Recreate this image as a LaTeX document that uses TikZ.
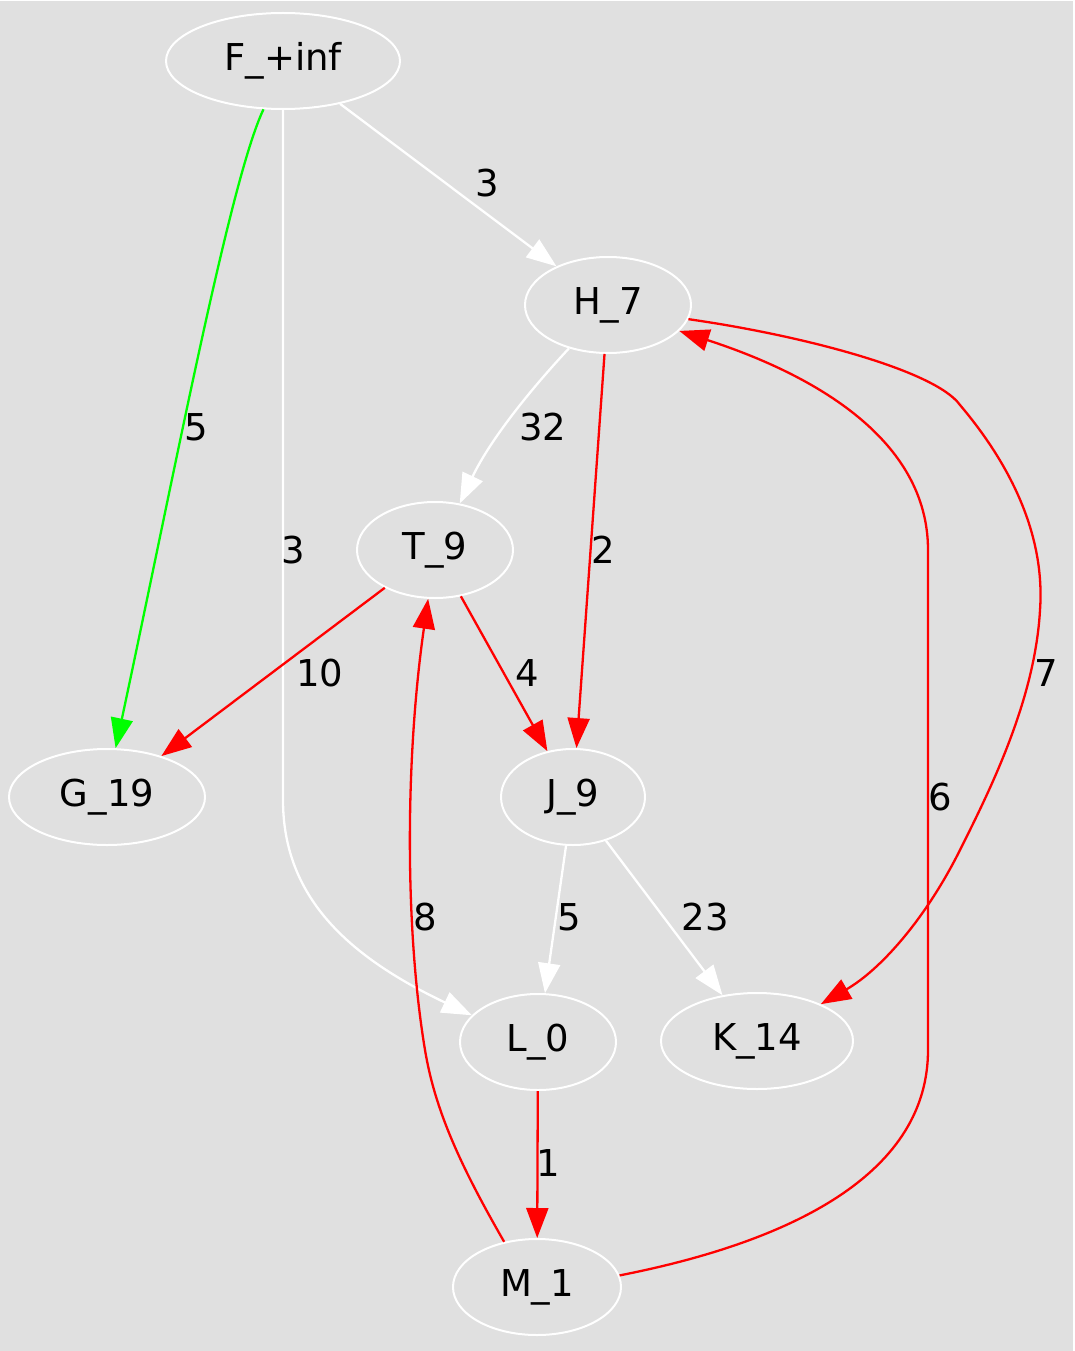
\documentclass[tikz,border=0pt]{standalone}
\usepackage{fontspec}
\setmainfont{DejaVu Sans}
\usetikzlibrary{shapes.geometric,arrows.meta}
\definecolor{bggray}{HTML}{E0E0E0}
\begin{document}
\begin{tikzpicture}[x=1pt,y=-1pt,
  gnode/.style={ellipse, draw=white, line width=2pt, inner sep=0pt,
    text height=28pt, text depth=9pt, minimum height=96pt,
    font=\fontsize{37}{44}\selectfont},
  elab/.style={inner sep=0pt, font=\fontsize{37}{44}\selectfont},
  edge/.style={line width=2.3pt, -{Triangle[length=30pt,width=22pt]}}]
\useasboundingbox (0,0) rectangle (1075,1351);
\fill[white] (0,0) rectangle (1075,1351);
\fill[bggray] (0,1) rectangle (1073,1351);
% nodes
\node[gnode, minimum width=234pt] (F) at (283,61) {F\_+inf};
\node[gnode, minimum width=166pt] (H) at (608,305) {H\_7};
\node[gnode, minimum width=156pt] (T) at (435,550) {T\_9};
\node[gnode, minimum width=196pt] (G) at (107,797) {G\_19};
\node[gnode, minimum width=144pt] (J) at (573,797) {J\_9};
\node[gnode, minimum width=156pt] (L) at (538,1042) {L\_0};
\node[gnode, minimum width=192pt] (K) at (757,1041) {K\_14};
\node[gnode, minimum width=168pt] (M) at (537,1287) {M\_1};
% edges
\draw[edge, green] (F.248) .. controls (230,180) and (175,470) .. (G.80);
\draw[edge, white] (F.south) -- (283,800) .. controls (283,895) and (345,955) .. (L.158);
\draw[edge, white] (F) -- (H);
\draw[edge, white] (H.228) .. controls (530,390) and (490,440) .. (T.62);
\draw[edge, red] (H) -- (J);
\draw[edge, red] (H.350) .. controls (800,335) and (935,370) .. (960,405)
  .. controls (1015,470) and (1045,540) .. (1040,610)
  .. controls (1035,700) and (990,790) .. (960,850)
  .. controls (925,920) and (880,970) .. (K.30);
\draw[edge, red] (M.8) .. controls (800,1240) and (928,1170) .. (928,1050)
  -- (928,550) .. controls (928,440) and (815,375) .. (H.340);
\draw[edge, red] (T) -- (G);
\draw[edge, red] (T) -- (J);
\draw[edge, white] (J) -- (L);
\draw[edge, white] (J) -- (K);
\draw[edge, red] (L) -- (M);
\draw[edge, red] (M.126) .. controls (460,1165) and (435,1110) .. (425,1050)
  .. controls (405,930) and (405,760) .. (T.262);
% edge labels
\node[elab] (l1) at (196,427) {5};
\node[elab] (l2) at (293,550) {3};
\node[elab] (l3) at (487,183) {3};
\node[elab] (l4) at (543,427) {32};
\node[elab] (l5) at (603,550) {2};
\node[elab] (l6) at (1046,673) {7};
\node[elab] (l7) at (940,797) {6};
\node[elab] (l8) at (320,673) {10};
\node[elab] (l9) at (527,673) {4};
\node[elab] (l10) at (569,917) {5};
\node[elab] (l11) at (705,917) {23};
\node[elab] (l12) at (548,1163) {1};
\node[elab] (l13) at (425,917) {8};
\end{tikzpicture}
\end{document}
